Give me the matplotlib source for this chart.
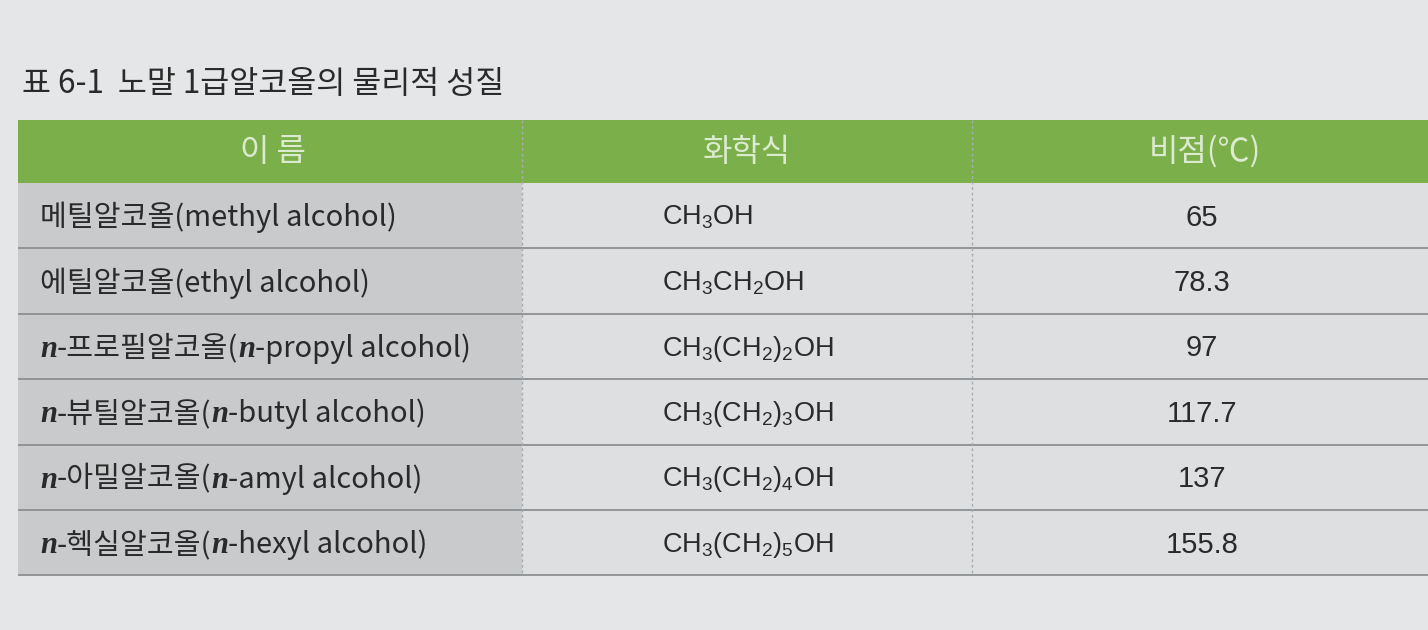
import matplotlib
matplotlib.use("Agg")
import matplotlib.pyplot as plt
from matplotlib.patches import Rectangle
from matplotlib.offsetbox import TextArea, HPacker, AnnotationBbox
from matplotlib import font_manager

# ---------- données du tableau ----------
titre = "표 6-1  노말 1급알코올의 물리적 성질"
entetes = ["이 름", "화학식", "비점(℃)"]
noms = [
    "메틸알코올(methyl alcohol)",
    "에틸알코올(ethyl alcohol)",
    "*n*-프로필알코올(*n*-propyl alcohol)",
    "*n*-뷰틸알코올(*n*-butyl alcohol)",
    "*n*-아밀알코올(*n*-amyl alcohol)",
    "*n*-헥실알코올(*n*-hexyl alcohol)",
]
formules = [
    "CH$_3$OH",
    "CH$_3$CH$_2$OH",
    "CH$_3$(CH$_2$)$_2$OH",
    "CH$_3$(CH$_2$)$_3$OH",
    "CH$_3$(CH$_2$)$_4$OH",
    "CH$_3$(CH$_2$)$_5$OH",
]
points_ebullition = ["65", "78.3", "97", "117.7", "137", "155.8"]

# ---------- style ----------
KR = "Noto Sans CJK KR"
noms_installes = {f.name for f in font_manager.fontManager.ttflist}
narrow = "Liberation Sans Narrow" if "Liberation Sans Narrow" in noms_installes else "Liberation Sans"

plt.rcParams["font.family"] = [KR, "DejaVu Sans"]
plt.rcParams["mathtext.fontset"] = "custom"
plt.rcParams["mathtext.rm"] = narrow
plt.rcParams["mathtext.it"] = narrow

fond = "#e5e6e7"
vert = "#7aaf49"
texte_entete = "#dcead0"
gris_col1 = "#c8cacb"
gris_cell = "#dddfe0"
ligne = "#8c9092"
encre = "#2a2a2a"

W, H = 1428, 630
x_gauche, x_droite = 18, 1428
x_sep = [522, 972]
y_haut = 120
h_entete = 63
h_ligne = 65.4

fig = plt.figure(figsize=(W / 100, H / 100), dpi=100)
fig.patch.set_facecolor(fond)
ax = fig.add_axes([0, 0, 1, 1])
ax.set_xlim(0, W)
ax.set_ylim(H, 0)
ax.axis("off")

# titre
ax.text(22, 84, titre, fontsize=22.7, color=encre, va="center", ha="left")

# entête vert
ax.add_patch(Rectangle((x_gauche, y_haut), x_droite - x_gauche, h_entete,
                       facecolor=vert, edgecolor="none"))
centres = [273, 747, 1205]
for c, t in zip(centres, entetes):
    ax.text(c, y_haut + h_entete / 2, t, fontsize=23, color=texte_entete,
            ha="center", va="center")

# lignes du corps
y0 = y_haut + h_entete
n = len(noms)
for i in range(n):
    yt = y0 + i * h_ligne
    ax.add_patch(Rectangle((x_gauche, yt), x_sep[0] - x_gauche, h_ligne,
                           facecolor=gris_col1, edgecolor="none"))
    ax.add_patch(Rectangle((x_sep[0], yt), x_droite - x_sep[0], h_ligne,
                           facecolor=gris_cell, edgecolor="none"))
    ax.plot([x_gauche, x_droite], [yt + h_ligne, yt + h_ligne],
            color=ligne, lw=1.3, solid_capstyle="butt")
    yc = yt + h_ligne / 2 + 2

    # nom : segments avec n en gras italique
    morceaux = []
    for k, s in enumerate(noms[i].split("*")):
        if not s:
            continue
        if k % 2 == 1:
            props = dict(fontsize=22, color=encre, family="Liberation Serif",
                         style="italic", weight="bold")
        else:
            props = dict(fontsize=21, color=encre, family=[KR, "DejaVu Sans"])
        morceaux.append(TextArea(s, textprops=props))
    boite = HPacker(children=morceaux, align="baseline", pad=0, sep=0)
    ab = AnnotationBbox(boite, (40, yc), xycoords="data", box_alignment=(0, 0.5),
                        frameon=False, pad=0)
    ax.add_artist(ab)

    ax.text(662, yc, formules[i], fontsize=19.5, color=encre, family=narrow,
            ha="left", va="center")
    ax.text(1202, yc, points_ebullition[i], fontsize=21, color=encre, family=narrow,
            ha="center", va="center")

# séparateurs verticaux pointillés
y_bas = y0 + n * h_ligne
for xs in x_sep:
    ax.plot([xs, xs], [y_haut, y_bas], color="#a9adaf", lw=1.0, ls=(0, (2, 2)))

fig.savefig("out.png", dpi=100, facecolor=fond)
